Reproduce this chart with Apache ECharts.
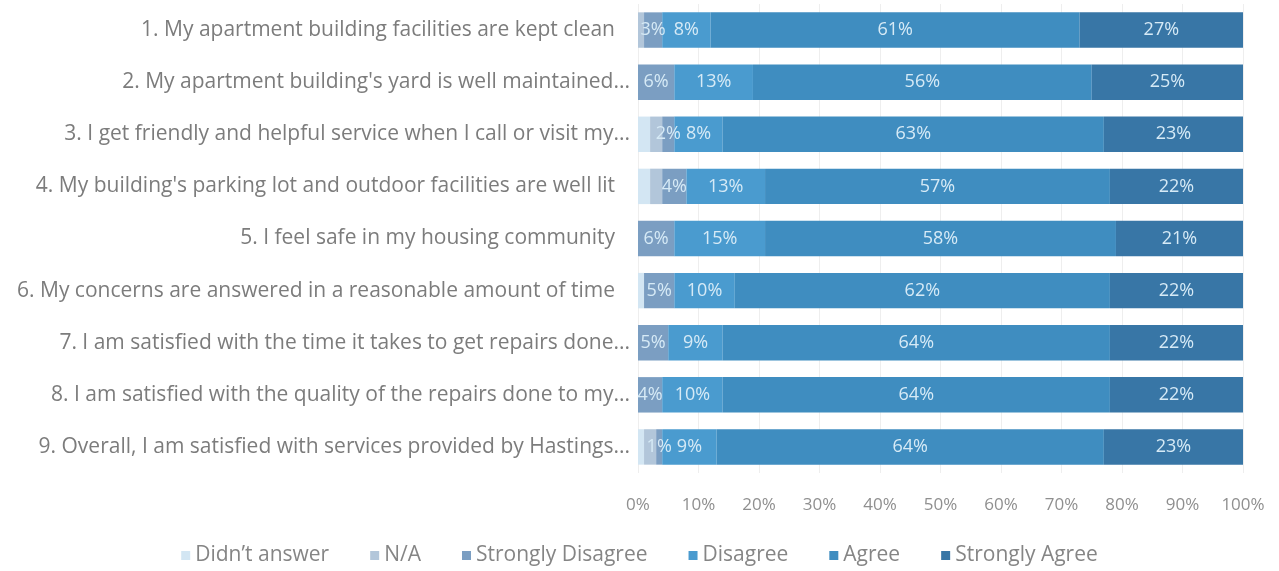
<!DOCTYPE html>
<html>
<head>
<meta charset="utf-8">
<script src="https://cdn.jsdelivr.net/npm/echarts@6/dist/echarts.min.js"></script>
<style>
  html, body { margin: 0; padding: 0; background: #ffffff; }
  #chart { width: 1279px; height: 571px; }
</style>
</head>
<body>
<div id="chart"></div>
<script>
// Survey statements (top to bottom)
const categories = [
  "1. My apartment building facilities are kept clean",
  "2. My apartment building's yard is well maintained...",
  "3. I get friendly and helpful service when I call or visit my...",
  "4. My building's parking lot and outdoor facilities are well lit",
  "5. I feel safe in my housing community",
  "6. My concerns are answered in a reasonable amount of time",
  "7. I am satisfied with the time it takes to get repairs done...",
  "8. I am satisfied with the quality of the repairs done to my...",
  "9. Overall, I am satisfied with services provided by Hastings..."
];

// Response shares (%) per statement, same order as categories
const didntAnswer       = [0, 0, 2, 2, 0, 1, 0, 0, 1];
const notApplicable     = [1, 0, 2, 2, 0, 0, 0, 0, 2];
const stronglyDisagree  = [3, 6, 2, 4, 6, 5, 5, 4, 1];
const disagree          = [8, 13, 8, 13, 15, 10, 9, 10, 9];
const agree             = [61, 56, 63, 57, 58, 62, 64, 64, 64];
const stronglyAgree     = [27, 25, 23, 22, 21, 22, 22, 22, 23];

const seriesNames = ["Didn\u2019t answer", "N/A", "Strongly Disagree", "Disagree", "Agree", "Strongly Agree"];
const seriesData = [didntAnswer, notApplicable, stronglyDisagree, disagree, agree, stronglyAgree];
const seriesColors = ["#d3e6f3", "#b2c6da", "#7b9ec2", "#4a9bcf", "#3f8dc0", "#3876a6"];
const showLabel = [false, false, true, true, true, true];

const xTicks = [0, 10, 20, 30, 40, 50, 60, 70, 80, 90, 100];

const chart = echarts.init(document.getElementById('chart'), null, { renderer: 'canvas' });

const fontFamily = "'Open Sans', 'Noto Sans', sans-serif";
const catStyle = { color: '#7c7c7c', fontSize: 21, fontFamily: fontFamily };

chart.setOption({
  animation: false,
  backgroundColor: '#ffffff',
  grid: { left: 638, right: 36, top: 4, bottom: 98, containLabel: false },
  legend: {
    bottom: 0,
    left: 'center',
    itemWidth: 9,
    itemHeight: 9,
    itemGap: 41,
    icon: 'rect',
    textStyle: { color: '#858585', fontSize: 21, fontFamily: fontFamily },
    data: seriesNames
  },
  xAxis: {
    type: 'value',
    min: xTicks[0],
    max: xTicks[xTicks.length - 1],
    interval: 10,
    axisLine: { show: false },
    axisTick: { show: false },
    splitLine: { show: true, lineStyle: { color: '#eeeeee', width: 1 } },
    axisLabel: {
      color: '#8f8f8f',
      fontSize: 17,
      fontFamily: fontFamily,
      margin: 24,
      formatter: v => v + '%'
    }
  },
  yAxis: {
    type: 'category',
    inverse: true,
    data: categories,
    axisLine: { show: false },
    axisTick: { show: false },
    axisLabel: {
      margin: 8,
      formatter: v => v.endsWith('...') ? '{t|' + v + '}' : '{p|' + v + '}',
      rich: {
        t: catStyle,
        p: Object.assign({ padding: [0, 15, 0, 0] }, catStyle)
      }
    }
  },
  series: seriesNames.map((name, i) => ({
    name: name,
    type: 'bar',
    stack: 'total',
    barCategoryGap: '32%',
    itemStyle: { color: seriesColors[i] },
    label: {
      show: showLabel[i],
      position: 'inside',
      color: '#d6eaf6',
      fontSize: 18,
      fontFamily: fontFamily,
      formatter: p => p.value > 0 ? p.value + '%' : ''
    },
    data: seriesData[i]
  }))
});
</script>
</body>
</html>
